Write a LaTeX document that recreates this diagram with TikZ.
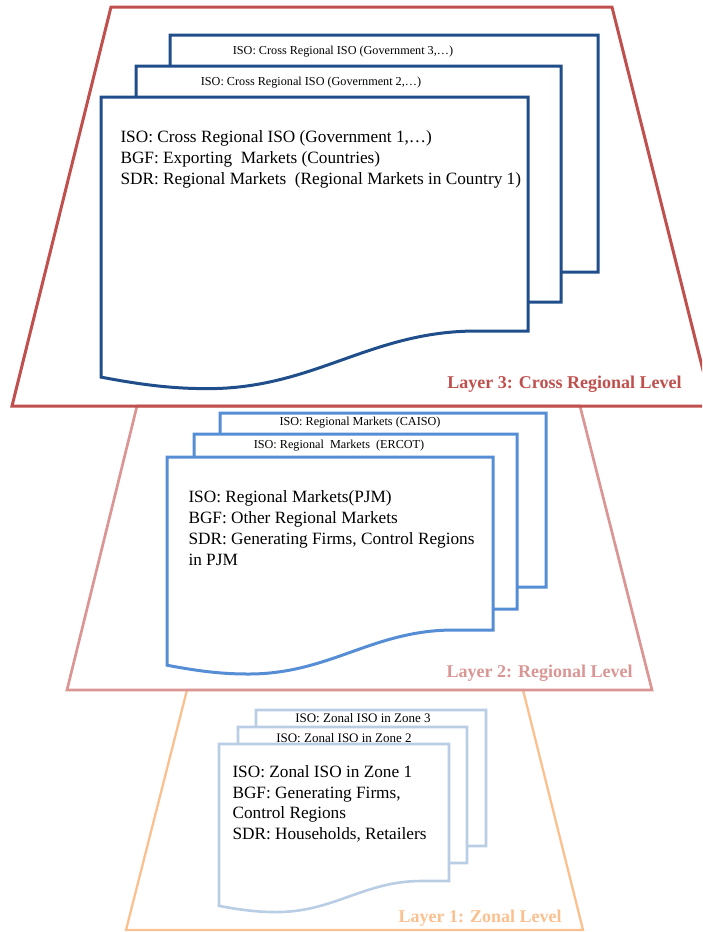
\documentclass[tikz,border=0pt]{standalone}
\usepackage{fontspec}
\setmainfont{Liberation Serif}
\usetikzlibrary{calc}
\definecolor{lthree}{HTML}{C0504D}
\definecolor{ltwo}{HTML}{D99694}
\definecolor{lone}{HTML}{FAC090}
\definecolor{dthree}{HTML}{1F4E8A}
\definecolor{dtwo}{HTML}{558ED5}
\definecolor{done}{HTML}{B9CDE5}
\tikzset{
  every picture/.style={line width=3pt},
  sLayer/.style={line join=miter},
  sSheet/.style={fill=white},
  sPage/.style={inner sep=0pt, outer sep=0pt, anchor=north west},
  sBody/.style={font=\fontsize{17.25}{21}\selectfont, align=left, anchor=north west, inner sep=0pt},
  sTab/.style={font=\fontsize{12.2}{14}\selectfont, inner sep=0pt},
  sTag/.style={font=\fontsize{18}{20}\selectfont\bfseries, anchor=east, inner sep=0pt},
}
% page with a wavy lower edge: style, name, left, top, width, height
\newcommand{\docsheet}[6]{%
  \node[sPage, minimum width=#5pt, minimum height=#6pt] (#2) at (#3,#4) {};
  \draw[#1, sSheet] (#2.south east) -- (#2.north east) -- (#2.north west)
    -- (#3,{#4+#6+0.108*#5})
    .. controls ({#3+0.1*#5},{#4+#6+0.127*#5}) and ({#3+0.17*#5},{#4+#6+0.135*#5})
    .. ({#3+0.25*#5},{#4+#6+0.135*#5})
    .. controls ({#3+0.5*#5},{#4+#6+0.135*#5}) and ({#3+0.63*#5},{#4+#6})
    .. ({#3+0.88*#5},{#4+#6}) -- cycle;
}

\begin{document}
\begin{tikzpicture}[x=1pt, y=-1pt]
  \useasboundingbox (0,0) rectangle (702,932);
  \clip (0,0) rectangle (702,932);

  % the three levels, lowest first
  \draw[sLayer, lone, line width=2.3pt] (187,690) -- (523,690) -- (583,930) -- (126,930) -- cycle;
  \draw[sLayer, ltwo, line width=2.7pt] (137,406) -- (580,406) -- (652,690) -- (67,690) -- cycle;
  \draw[sLayer, lthree] (111,7) -- (612,7) -- (712,406) -- (12,406) -- cycle;

  % layer 3
  \docsheet{dthree}{P3c}{170}{35}{428}{237}
  \docsheet{dthree}{P3b}{136}{66}{425}{236}
  \docsheet{dthree}{P3a}{101}{97}{427}{234}
  \node[sTab] (H3c) at (343,52) {ISO: Cross Regional ISO (Government 3,…)};
  \node[sTab] (H3b) at (311,83) {ISO: Cross Regional ISO (Government 2,…)};
  \node[sBody] (T3) at (119,129) {ISO: Cross Regional ISO (Government 1,…)\\
    BGF: Exporting\ \ Markets (Countries)\\
    SDR: Regional Markets\ \ (Regional Markets in Country 1)};
  \node[sTag, text=lthree] (L3) at (683,384) {Layer 3: Cross Regional Level};

  % layer 2
  \docsheet{dtwo}{P2c}{220}{413}{326}{174}
  \docsheet{dtwo}{P2b}{194}{434}{323}{175}
  \docsheet{dtwo}{P2a}{167}{457}{326}{173}
  \node[sTab] (H2c) at (360,423) {ISO: Regional Markets (CAISO)};
  \node[sTab] (H2b) at (339,446) {ISO: Regional\ \ Markets\ \ (ERCOT)};
  \node[sBody] (T2) at (187,489) {ISO: Regional Markets(PJM)\\
    BGF: Other Regional Markets\\
    SDR: Generating Firms, Control Regions\\
    in PJM};
  \node[sTag, text=ltwo] (L2) at (634,673) {Layer 2: Regional Level};

  % layer 1
  \docsheet{done, line width=2.6pt}{P1c}{256}{710}{230}{136}
  \docsheet{done, line width=2.6pt}{P1b}{238}{727}{229}{136}
  \docsheet{done, line width=2.6pt}{P1a}{219}{744}{230}{137}
  \node[sTab, font=\fontsize{13}{15}\selectfont] (H1c) at (363,718) {ISO: Zonal ISO in Zone 3};
  \node[sTab, font=\fontsize{13}{15}\selectfont] (H1b) at (344,738) {ISO: Zonal ISO in Zone 2};
  \node[sBody, font=\fontsize{17.25}{20.7}\selectfont] (T1) at (231,764) {ISO: Zonal ISO in Zone 1\\
    BGF: Generating Firms,\\
    Control Regions\\
    SDR: Households, Retailers};
  \node[sTag, text=lone] (L1) at (563,918) {Layer 1: Zonal Level};
\end{tikzpicture}
\end{document}
